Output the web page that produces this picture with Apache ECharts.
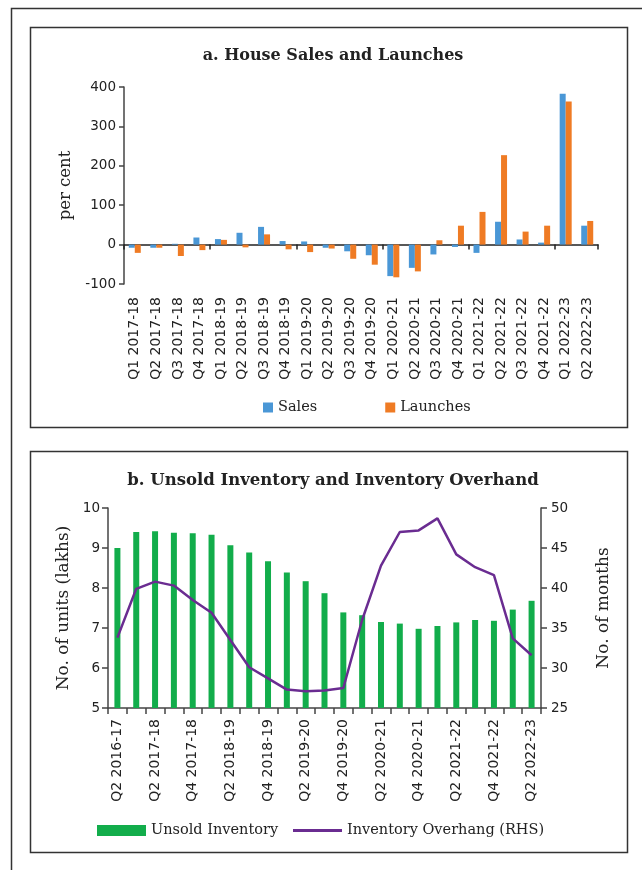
<!DOCTYPE html>
<html>
<head>
<meta charset="utf-8">
<script src="https://cdn.jsdelivr.net/npm/echarts@6/dist/echarts.min.js"></script>
<style>
html,body{margin:0;padding:0;background:#fff;}
#c{width:642px;height:870px;}
</style>
</head>
<body>
<div id="c"></div>
<script>
// ---- Panel a data ----
var quartersA = ['Q1 2017-18','Q2 2017-18','Q3 2017-18','Q4 2017-18','Q1 2018-19','Q2 2018-19','Q3 2018-19','Q4 2018-19','Q1 2019-20','Q2 2019-20','Q3 2019-20','Q4 2019-20','Q1 2020-21','Q2 2020-21','Q3 2020-21','Q4 2020-21','Q1 2021-22','Q2 2021-22','Q3 2021-22','Q4 2021-22','Q1 2022-23','Q2 2022-23'];
var sales    = [-8,-8,2,18,14,30,45,9,8,-8,-17,-27,-80,-59,-25,-6,-21,58,13,5,383,48];
var launches = [-21,-8,-29,-14,12,-7,26,-12,-19,-10,-36,-51,-83,-68,11,48,83,227,33,48,363,60];
var ticksA = [-100,0,100,200,300,400];

// ---- Panel b data ----
var quartersB = ['Q2 2016-17','Q1 2017-18','Q2 2017-18','Q3 2017-18','Q4 2017-18','Q1 2018-19','Q2 2018-19','Q3 2018-19','Q4 2018-19','Q1 2019-20','Q2 2019-20','Q3 2019-20','Q4 2019-20','Q1 2020-21','Q2 2020-21','Q3 2020-21','Q4 2020-21','Q1 2021-22','Q2 2021-22','Q3 2021-22','Q4 2021-22','Q1 2022-23','Q2 2022-23'];
var unsold   = [9.00,9.40,9.42,9.38,9.37,9.33,9.07,8.89,8.67,8.39,8.17,7.87,7.39,7.32,7.15,7.11,6.98,7.05,7.14,7.20,7.18,7.46,7.68];
var overhang = [33.8,39.9,40.8,40.3,38.5,36.9,33.5,30.1,28.7,27.3,27.1,27.2,27.5,36.0,42.8,47.0,47.2,48.7,44.2,42.6,41.6,33.7,31.6];
var ticksBLeft = [5,6,7,8,9,10];
var ticksBRight = [25,30,35,40,45,50];

var SERIF = '"DejaVu Serif", serif';
var SANS = '"DejaVu Sans", sans-serif';
var AX = '#444';

var chart = echarts.init(document.getElementById('c'), null, {renderer:'canvas'});
chart.setOption({
  animation: false,
  backgroundColor: '#fff',
  title: [
    {text: 'a. House Sales and Launches', left: 328, top: 43, textAlign: 'center',
     textStyle: {fontFamily: SERIF, fontWeight: 'bold', fontSize: 16, color: '#222'}},
    {text: 'b. Unsold Inventory and Inventory Overhand', left: 328, top: 467, textAlign: 'center',
     textStyle: {fontFamily: SERIF, fontWeight: 'bold', fontSize: 16.5, color: '#222'}}
  ],
  legend: [
    {data: ['Sales','Launches'], left: 258, top: 395, itemWidth: 10, itemHeight: 10, itemGap: 68, icon: 'rect',
     textStyle: {fontFamily: SERIF, fontSize: 14.5, color: '#222'}},
    {data: ['Unsold Inventory'], left: 92, top: 818, itemWidth: 49, itemHeight: 11, icon: 'rect',
     textStyle: {fontFamily: SERIF, fontSize: 14.5, color: '#222'}},
    {data: ['Inventory Overhang (RHS)'], left: 288, top: 818, itemWidth: 49, itemHeight: 3, icon: 'rect',
     textStyle: {fontFamily: SERIF, fontSize: 14.5, color: '#222'}}
  ],
  grid: [
    {left: 124, right: 44, top: 87, bottom: 586, containLabel: false},
    {left: 108, right: 101, top: 508, bottom: 162, containLabel: false}
  ],
  xAxis: [
    {type: 'category', gridIndex: 0, data: quartersA,
     axisLine: {onZero: true, lineStyle: {color: '#222', width: 1.5}},
     axisTick: {show: true, length: 5, lineStyle: {color: '#222', width: 1.5}},
     axisLabel: {show: false}},
    {type: 'category', gridIndex: 0, data: quartersA, position: 'bottom',
     axisLine: {show: false, onZero: false}, axisTick: {show: false},
     axisLabel: {show: true, interval: 0, rotate: 90, margin: 13, fontFamily: SANS, fontSize: 14, color: '#222'}},
    {type: 'category', gridIndex: 1, data: quartersB,
     axisLine: {onZero: false, lineStyle: {color: AX, width: 1.5}},
     axisTick: {show: true, interval: 0, length: 6, lineStyle: {color: AX, width: 1.5}},
     axisLabel: {show: true, interval: 1, rotate: 90, margin: 11, fontFamily: SANS, fontSize: 14, color: '#222'}}
  ],
  yAxis: [
    {type: 'value', gridIndex: 0, min: ticksA[0], max: ticksA[ticksA.length-1], interval: 100,
     name: 'per cent', nameLocation: 'middle', nameGap: 50, nameRotate: 90,
     nameTextStyle: {fontFamily: SERIF, fontSize: 16.5, color: '#222'},
     axisLine: {show: true, lineStyle: {color: AX, width: 1.5}},
     axisTick: {show: true, length: 5, lineStyle: {color: AX, width: 1.5}},
     splitLine: {show: false},
     axisLabel: {fontFamily: SANS, fontSize: 13.5, color: '#222', margin: 8}},
    {type: 'value', gridIndex: 1, min: ticksBLeft[0], max: ticksBLeft[ticksBLeft.length-1], interval: 1,
     name: 'No. of units (lakhs)', nameLocation: 'middle', nameGap: 30, nameRotate: 90,
     nameTextStyle: {fontFamily: SERIF, fontSize: 17, color: '#222'},
     axisLine: {show: true, lineStyle: {color: AX, width: 1.5}},
     axisTick: {show: true, length: 6, lineStyle: {color: AX, width: 1.5}},
     splitLine: {show: false},
     axisLabel: {fontFamily: SANS, fontSize: 13.5, color: '#222', margin: 8}},
    {type: 'value', gridIndex: 1, position: 'right', min: ticksBRight[0], max: ticksBRight[ticksBRight.length-1], interval: 5,
     name: 'No. of months', nameLocation: 'middle', nameGap: 54, nameRotate: 90,
     nameTextStyle: {fontFamily: SERIF, fontSize: 17, color: '#222'},
     axisLine: {show: true, lineStyle: {color: AX, width: 1.5}},
     axisTick: {show: true, length: 6, lineStyle: {color: AX, width: 1.5}},
     splitLine: {show: false},
     axisLabel: {fontFamily: SANS, fontSize: 13.5, color: '#222', margin: 10}}
  ],
  series: [
    {name: 'Sales', type: 'bar', xAxisIndex: 0, yAxisIndex: 0, data: sales, barWidth: 6, barGap: '0%',
     itemStyle: {color: '#4a97d6'}},
    {name: 'Launches', type: 'bar', xAxisIndex: 0, yAxisIndex: 0, data: launches, barWidth: 6, barGap: '0%',
     itemStyle: {color: '#ef7b24'}},
    {name: 'Unsold Inventory', type: 'bar', xAxisIndex: 2, yAxisIndex: 1, data: unsold, barWidth: 6,
     itemStyle: {color: '#12ad4b'}},
    {name: 'Inventory Overhang (RHS)', type: 'line', xAxisIndex: 2, yAxisIndex: 2, data: overhang,
     symbol: 'none', lineStyle: {color: '#6a2c91', width: 2.5}, itemStyle: {color: '#6a2c91'}}
  ],
  graphic: [
    {type: 'polyline', shape: {points: [[11.5, 870], [11.5, 8.5], [642, 8.5]]}, style: {stroke: '#333', lineWidth: 1.5, fill: null}, silent: true},
    {type: 'rect', shape: {x: 30.5, y: 27.5, width: 597, height: 400}, style: {stroke: '#333', lineWidth: 1.5, fill: null}, silent: true},
    {type: 'rect', shape: {x: 30.5, y: 451.5, width: 597, height: 401}, style: {stroke: '#333', lineWidth: 1.5, fill: null}, silent: true}
  ]
});
</script>
</body>
</html>
